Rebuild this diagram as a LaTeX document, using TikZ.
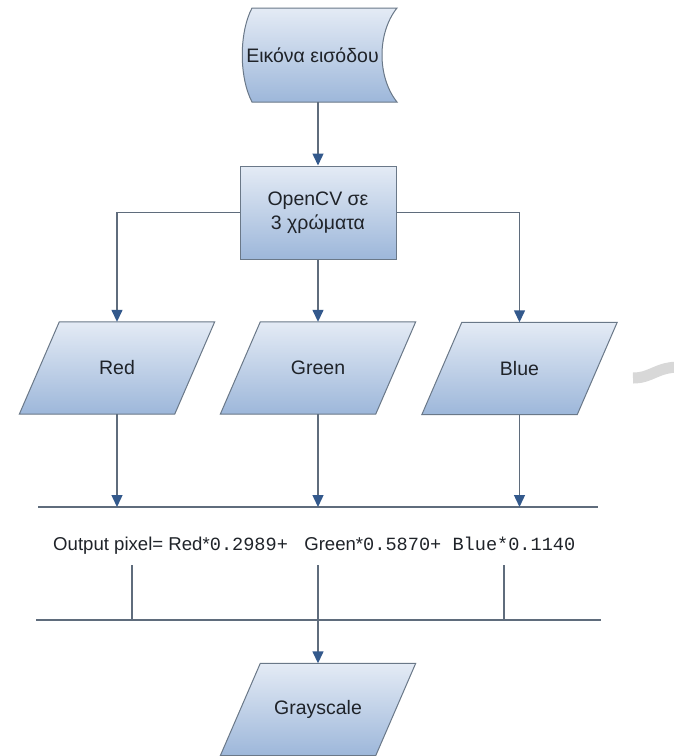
\documentclass[tikz,border=0pt]{standalone}
\usepackage{fontspec}
\setmainfont{Liberation Sans}
\newfontfamily\codefont{Liberation Mono}
\usetikzlibrary{arrows.meta,calc,backgrounds}

\definecolor{boxtop}{HTML}{E4EBF5}
\definecolor{boxbot}{HTML}{9DB7DA}
\definecolor{edge}{HTML}{6A7888}
\definecolor{wire}{HTML}{5F6C7C}
\definecolor{tip}{HTML}{33598C}
\definecolor{ink}{HTML}{1F2329}
\definecolor{smudge}{HTML}{D8D8D8}

% parallelogram (input/output) node: text node plus a slanted shaded outline
\newcommand\ionode[4]{%
  \node[iobox] (#1) at (#2,#3) {#4};
  \begin{scope}[on background layer]
    \path[shapefill] ($(#1.south west)+(-20pt,0)$) -- ($(#1.north west)+(20pt,0)$)
      -- ($(#1.north east)+(20pt,0)$) -- ($(#1.south east)+(-20pt,0)$) -- cycle;
  \end{scope}}

\begin{document}
\begin{tikzpicture}[x=1pt,y=-1pt,
  nodetext/.style={font=\fontsize{19.5}{24}\selectfont, text=ink, align=center},
  shapefill/.style={top color=boxtop, bottom color=boxbot, draw=edge, line width=1pt},
  iobox/.style={nodetext, draw=none, inner sep=0pt, minimum width=155pt, minimum height=92pt},
  procbox/.style={nodetext, shapefill, inner sep=0pt, minimum width=156pt, minimum height=93pt},
  wire/.style={draw=wire, line width=1.4pt},
  flow/.style={wire, -{Triangle[width=11pt,length=12pt,color=tip]}}]

% white page
\begin{scope}[on background layer]
  \fill[white] (0,0) rectangle (673,756);
\end{scope}
\useasboundingbox (0,0) rectangle (673,756);

% input image (stored-data shape)
\node[nodetext, draw=none, inner sep=0pt, minimum width=150pt, minimum height=94pt] (src) at (312.5,55) {Εικόνα εισόδου};
\begin{scope}[on background layer]
  \path[shapefill] ($(src.center)+(-60.5pt,47pt)$) -- ($(src.center)+(84.5pt,47pt)$)
    .. controls ($(src.center)+(64.5pt,22pt)$) and ($(src.center)+(64.5pt,-22pt)$) .. ($(src.center)+(84.5pt,-47pt)$)
    -- ($(src.center)+(-60.5pt,-47pt)$)
    .. controls ($(src.center)+(-73.5pt,-22pt)$) and ($(src.center)+(-73.5pt,22pt)$) .. cycle;
\end{scope}

% colour split
\node[procbox] (box) at (318,212.5) {OpenCV σε\\3 χρώματα};

% channels
\ionode{red}{117}{368}{Red}
\ionode{green}{318}{368}{Green}
\ionode{blue}{519.5}{368.5}{Blue}

% result
\ionode{gray}{318}{709.5}{Grayscale}

% bus lines and the weighted sum
\coordinate (busA-l) at (38,507);
\coordinate (busA-r) at (598,507);
\coordinate (busB-l) at (36,620);
\coordinate (busB-r) at (601,620);
\coordinate (tapR) at (132,565);
\coordinate (tapG) at (318,565);
\coordinate (tapB) at (504,565);

\node[anchor=base west, inner sep=0pt, text=ink, font=\fontsize{18.6}{22}\selectfont] (formula) at (53,550)
  {Output pixel= Red*{\codefont 0.2989+ } Green*{\codefont 0.5870+ Blue*0.1140}};

% connectors
\draw[flow] (box.north |- src.south) -- (box.north);
\draw[flow] (box.west) -| (red.north);
\draw[flow] (box.south) -- (green.north);
\draw[flow] (box.east) -| (blue.north);

\draw[wire] (busA-l) -- (busA-r);
\draw[flow] (red.south) -- (red.south |- busA-l);
\draw[flow] (green.south) -- (green.south |- busA-l);
\draw[flow] (blue.south) -- (blue.south |- busA-l);

\draw[wire] (busB-l) -- (busB-r);
\draw[wire] (tapR) -- (tapR |- busB-l);
\draw[wire] (tapB) -- (tapB |- busB-l);
\draw[flow] (tapG) -- (gray.north);

% faint mark at the right edge
\draw[smudge, line width=11pt] (633,378) .. controls (652,378) and (656,367) .. (680,367);

\end{tikzpicture}
\end{document}
